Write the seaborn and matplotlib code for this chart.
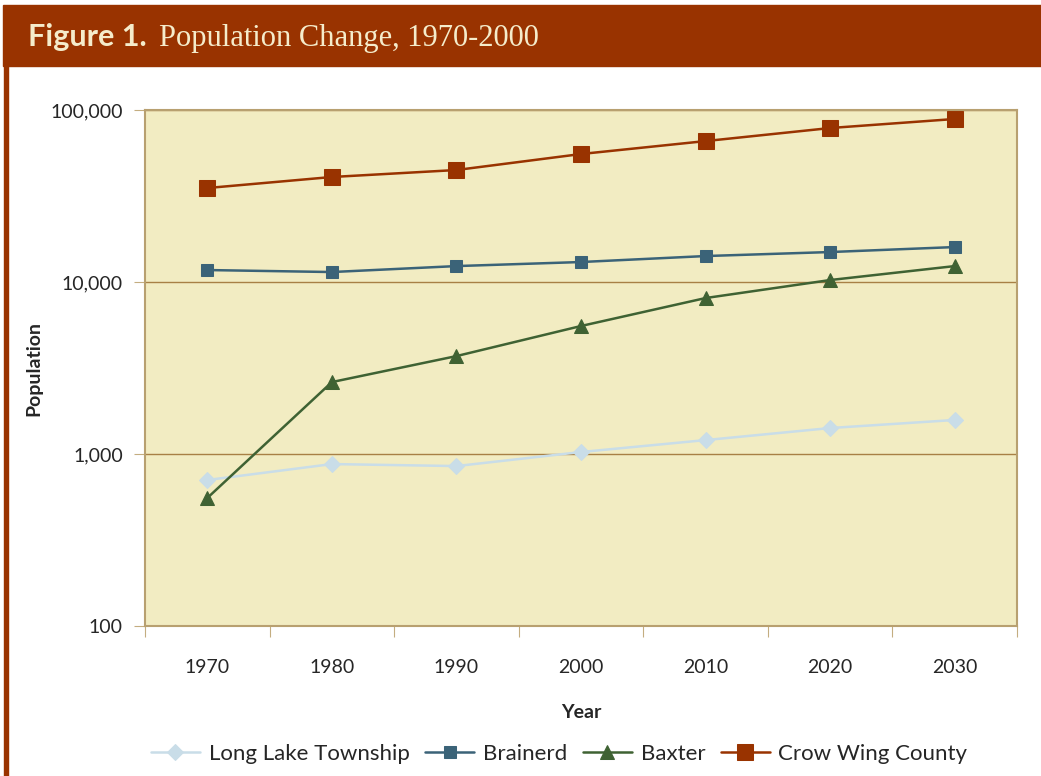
import pandas as pd
import seaborn as sns
import matplotlib.pyplot as plt
import matplotlib.ticker as mtick
from matplotlib.patches import Rectangle

# Data (log scale)
years = [1970, 1980, 1990, 2000, 2010, 2020, 2030]
long_lake = [706, 874, 851, 1027, 1205, 1416, 1577]
brainerd = [11740, 11430, 12380, 13070, 14160, 14940, 15970]
baxter = [555, 2620, 3710, 5550, 8070, 10270, 12380]
crow_wing = [35200, 40800, 44800, 55500, 66000, 78600, 88700]

series = ['Long Lake Township', 'Brainerd', 'Baxter', 'Crow Wing County']
df = pd.DataFrame({'Year': years * 4,
                   'Population': long_lake + brainerd + baxter + crow_wing,
                   'place': [s for s in series for _ in years]})

colors = {'Long Lake Township': '#c9dde8', 'Brainerd': '#3b6378',
          'Baxter': '#3f6233', 'Crow Wing County': '#993300'}
markers = {'Long Lake Township': 'D', 'Brainerd': 's',
           'Baxter': '^', 'Crow Wing County': 's'}
msizes = {'Long Lake Township': 8, 'Brainerd': 9,
          'Baxter': 10, 'Crow Wing County': 11}

sns.set_style('white')
plt.rcParams['font.family'] = ['Lato', 'DejaVu Sans']

fig = plt.figure(figsize=(10.41, 7.76), dpi=100)
ax = fig.add_axes([0.1393, 0.1933, 0.8377, 0.6649])

for s in series:
    sns.lineplot(data=df[df['place'] == s], x='Year', y='Population',
                 color=colors[s], marker=markers[s], markersize=msizes[s],
                 markeredgecolor=colors[s], linewidth=1.8, label=s, ax=ax)

ax.set_yscale('log')
ax.set_ylim(100, 100000)
ax.set_xlim(1965, 2035)
ax.set_facecolor('#f2ecc2')
ax.yaxis.set_major_formatter(mtick.StrMethodFormatter('{x:,.0f}'))
ax.yaxis.set_minor_locator(mtick.NullLocator())
ax.grid(True, axis='y', which='major', color='#a88045', linewidth=1)
ax.set_axisbelow(True)

# ticks between categories, labels on the centres
ax.set_xticks(range(1965, 2036, 10))
ax.set_xticklabels([])
ax.set_xticks(years, minor=True)
ax.set_xticklabels([str(y) for y in years], minor=True)
ax.tick_params(axis='x', which='major', direction='out', length=8,
               color='#c4ad80', bottom=True)
ax.tick_params(axis='x', which='minor', length=0, pad=24, labelsize=14)
ax.tick_params(axis='y', direction='out', length=8, color='#c4ad80',
               left=True, labelsize=14, pad=8)

for sp in ax.spines.values():
    sp.set_color('#b8a070')
    sp.set_linewidth(1.5)

ax.set_xlabel('Year', fontsize=14, fontweight='bold', labelpad=20)
ax.set_ylabel('Population', fontsize=14, fontweight='bold')
ax.yaxis.set_label_coords(-0.118, 0.5)

ax.legend(loc='upper center', bbox_to_anchor=(0.475, -0.19), ncol=4,
          frameon=False, fontsize=16, handlelength=2.2, columnspacing=0.7,
          handletextpad=0.4)

# title banner and side rule
fig.patches.append(Rectangle((0.003, 0.915), 0.997, 0.079,
                             transform=fig.transFigure, color='#993300',
                             zorder=0))
fig.patches.append(Rectangle((0.004, 0.0), 0.004, 0.916,
                             transform=fig.transFigure, color='#993300',
                             zorder=0))
fig.text(0.027, 0.952, 'Figure 1.', color='#f5eccb', fontsize=22,
         fontweight='bold', va='center', family=['Lato', 'DejaVu Sans'])
fig.text(0.153, 0.950, 'Population Change, 1970-2000', color='#f5eccb',
         fontsize=22, va='center',
         family=['Liberation Serif', 'DejaVu Serif'])

fig.savefig('out.png', dpi=100, facecolor='white')
